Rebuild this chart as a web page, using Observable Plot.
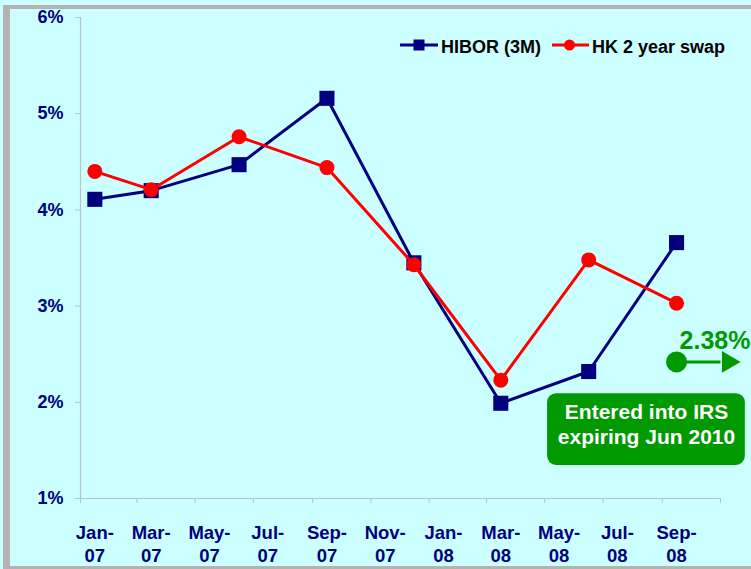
<!DOCTYPE html>
<html>
<head>
<meta charset="utf-8">
<script src="https://cdn.jsdelivr.net/npm/d3@7"></script>
<script src="https://cdn.jsdelivr.net/npm/@observablehq/plot@0.6"></script>
<style>
  html, body { margin: 0; padding: 0; background: #CCFFFF; }
  #wrap { position: relative; width: 751px; height: 569px; background: #CCFFFF; overflow: hidden; font-family: "Liberation Sans", Arial, sans-serif; }
  #frame { position: absolute; left: 3px; top: 5px; width: 800px; height: 557px; border-left: 7px solid #b3b3b3; border-top: 4px solid #b3b3b3; border-bottom: 4px solid #b3b3b3; }
  #chart { position: absolute; left: 0; top: 0; }
  .lg { position: absolute; font-weight: bold; font-size: 18px; color: #000; white-space: nowrap; line-height: 1; }
</style>
</head>
<body>
<div id="wrap">
  <div id="frame"></div>
  <div id="chart"></div>
  <svg style="position:absolute;left:399px;top:39px" width="40" height="12"><line x1="1" y1="6" x2="39" y2="6" stroke="#000080" stroke-width="3"/><rect x="14.5" y="0.5" width="11" height="11" fill="#000080"/></svg>
  <div class="lg" style="left:441px;top:38px">HIBOR (3M)</div>
  <svg style="position:absolute;left:551px;top:39px" width="40" height="12"><line x1="1" y1="6" x2="38" y2="6" stroke="#FF0000" stroke-width="3"/><circle cx="18.5" cy="6" r="5.5" fill="#FF0000"/></svg>
  <div class="lg" style="left:592px;top:38px">HK 2 year swap</div>
</div>
<script>
// ---- data ----
const obsMonths = ["Jan-07","Mar-07","Jun-07","Sep-07","Dec-07","Mar-08","Jun-08","Sep-08"];
const hibor = [4.11, 4.20, 4.47, 5.16, 3.45, 1.99, 2.32, 3.66];
const swap  = [4.40, 4.21, 4.76, 4.44, 3.43, 2.23, 3.48, 3.03];
const axisLabels = ["Jan-07","Mar-07","May-07","Jul-07","Sep-07","Nov-07","Jan-08","Mar-08","May-08","Jul-08","Sep-08"];
const yTicks = [1, 2, 3, 4, 5, 6];
const irsMonth = "Sep-08";
const irsLevel = 2.42;
const irsLabel = "2.38%";
const irsNote = "Entered into IRS\nexpiring Jun 2010";
const noteBox = {x1: "2008-05-04", x2: "2008-11-27", y1: 1.343, y2: 2.09};

// ---- helpers ----
const parse = d3.utcParse("%b-%y");
const mid = d => d3.utcDay.offset(d3.utcMonth.floor(d), 15);
const rows = obsMonths.map((m, i) => ({date: mid(parse(m)), hibor: hibor[i], swap: swap[i]}));
const labelDates = axisLabels.map(s => mid(parse(s)));
const tickDates = axisLabels.map(s => parse(s)).concat([d3.utcMonth.offset(parse(axisLabels[axisLabels.length - 1]), 2)]);
const labelOf = new Map(labelDates.map((d, i) => [+d, axisLabels[i].replace("-", "-\n")]));
const x0 = tickDates[0], x1 = tickDates[tickDates.length - 1];
const irsDate = mid(parse(irsMonth));
const boxX1 = new Date(noteBox.x1), boxX2 = new Date(noteBox.x2);
const boxMid = new Date((+boxX1 + +boxX2) / 2);
const arrowEnd = x1;
const arrowHead = d3.utcDay.offset(x1, 8);

const navy = "#000080", red = "#FF0000", green = "#009900", axisGray = "#c0c0c0";

const chart = Plot.plot({
  width: 751,
  height: 569,
  marginLeft: 80,
  marginRight: 31,
  marginTop: 17,
  marginBottom: 71,
  style: {background: "transparent", overflow: "visible", fontFamily: "'Liberation Sans', Arial, sans-serif", fontWeight: "bold"},
  x: {type: "utc", domain: [x0, x1]},
  y: {domain: [1, 6]},
  marks: [
    Plot.ruleX([x0], {stroke: axisGray, strokeWidth: 1.2}),
    Plot.ruleY([1], {stroke: axisGray, strokeWidth: 1.2}),
    Plot.axisY({ticks: yTicks, tickFormat: d => d + "%", tickSize: 5, tickPadding: 12, stroke: axisGray, fill: navy, fontSize: 18, fontWeight: "bold", label: null}),
    Plot.axisX({ticks: tickDates, tickSize: 5, tickFormat: () => "", stroke: axisGray, label: null}),
    Plot.axisX({ticks: labelDates, tickSize: 0, tickPadding: 24, tickFormat: d => labelOf.get(+d), fill: navy, fontSize: 18.5, fontWeight: "bold", lineHeight: 1.25, label: null}),
    Plot.line(rows, {x: "date", y: "hibor", stroke: navy, strokeWidth: 3}),
    Plot.dot(rows, {x: "date", y: "hibor", symbol: "square", r: 8.5, fill: navy}),
    Plot.line(rows, {x: "date", y: "swap", stroke: red, strokeWidth: 3}),
    Plot.dot(rows, {x: "date", y: "swap", symbol: "circle", r: 7.5, fill: red}),
    // IRS annotation
    Plot.link([0], {x1: () => irsDate, x2: () => arrowEnd, y1: () => irsLevel, y2: () => irsLevel, stroke: green, strokeWidth: 3}),
    Plot.dot([0], {x: () => arrowHead, y: () => irsLevel, symbol: "triangle", rotate: 90, r: 8, fill: green}),
    Plot.dot([0], {x: () => irsDate, y: () => irsLevel, r: 10.5, fill: green}),
    Plot.text([irsLabel], {x: () => irsDate, y: () => irsLevel, text: d => d, textAnchor: "start", dx: 3, dy: -21, fill: green, fontSize: 25, fontWeight: "bold"}),
    Plot.rect([0], {x1: () => boxX1, x2: () => boxX2, y1: () => noteBox.y1, y2: () => noteBox.y2, fill: green, rx: 9}),
    Plot.text([irsNote], {x: () => boxMid, y: () => (noteBox.y1 + noteBox.y2) / 2, text: d => d, fill: "white", fontSize: 21, fontWeight: "bold", lineHeight: 1.2, dy: -6})
  ]
});
document.getElementById("chart").appendChild(chart);
</script>
</body>
</html>
